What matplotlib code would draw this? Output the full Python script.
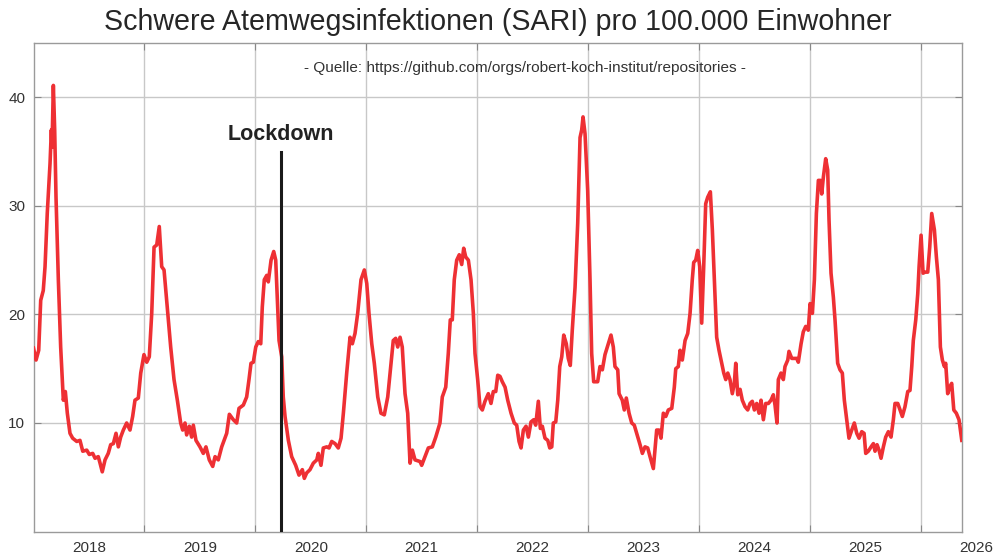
import numpy as np
import matplotlib.pyplot as plt

plt.rcParams['font.family'] = ['Liberation Sans', 'DejaVu Sans']

# Kalenderzeit (Dezimaljahr) und SARI-Inzidenz pro 100.000
jahr = [
    2018.000, 2018.023, 2018.047, 2018.065, 2018.088, 2018.104, 2018.124, 2018.149, 2018.161, 2018.167,
    2018.179, 2018.191, 2018.203, 2018.224, 2018.245, 2018.269, 2018.287, 2018.305, 2018.329, 2018.353,
    2018.390, 2018.419, 2018.444, 2018.480, 2018.503, 2018.534, 2018.555, 2018.584, 2018.600, 2018.620,
    2018.645, 2018.674, 2018.696, 2018.720, 2018.744, 2018.765, 2018.786, 2018.810, 2018.840, 2018.870,
    2018.894, 2018.915, 2018.945, 2018.967, 2018.996, 2019.021, 2019.044, 2019.066, 2019.087, 2019.111,
    2019.134, 2019.156, 2019.177, 2019.206, 2019.237, 2019.267, 2019.297, 2019.327, 2019.345, 2019.366,
    2019.381, 2019.405, 2019.426, 2019.441, 2019.465, 2019.501, 2019.531, 2019.555, 2019.585, 2019.616,
    2019.637, 2019.666, 2019.697, 2019.742, 2019.766, 2019.802, 2019.832, 2019.853, 2019.892, 2019.922,
    2019.943, 2019.961, 2019.982, 2020.004, 2020.027, 2020.049, 2020.063, 2020.081, 2020.103, 2020.117,
    2020.142, 2020.166, 2020.184, 2020.202, 2020.214, 2020.238, 2020.252, 2020.268, 2020.298, 2020.328,
    2020.364, 2020.394, 2020.424, 2020.442, 2020.463, 2020.493, 2020.523, 2020.554, 2020.568, 2020.592,
    2020.613, 2020.644, 2020.665, 2020.689, 2020.719, 2020.748, 2020.773, 2020.794, 2020.824, 2020.854,
    2020.875, 2020.899, 2020.923, 2020.953, 2020.983, 2021.005, 2021.025, 2021.050, 2021.073, 2021.104,
    2021.133, 2021.163, 2021.194, 2021.224, 2021.244, 2021.266, 2021.284, 2021.305, 2021.325, 2021.350,
    2021.374, 2021.395, 2021.416, 2021.440, 2021.485, 2021.500, 2021.530, 2021.560, 2021.596, 2021.627,
    2021.665, 2021.686, 2021.717, 2021.740, 2021.758, 2021.776, 2021.794, 2021.816, 2021.839, 2021.861,
    2021.879, 2021.897, 2021.921, 2021.945, 2021.966, 2021.981, 2022.005, 2022.026, 2022.047, 2022.071,
    2022.101, 2022.125, 2022.146, 2022.168, 2022.186, 2022.206, 2022.227, 2022.252, 2022.276, 2022.306,
    2022.335, 2022.357, 2022.378, 2022.396, 2022.417, 2022.441, 2022.462, 2022.486, 2022.510, 2022.528,
    2022.552, 2022.570, 2022.588, 2022.612, 2022.637, 2022.655, 2022.673, 2022.687, 2022.709, 2022.727,
    2022.745, 2022.763, 2022.781, 2022.804, 2022.822, 2022.840, 2022.858, 2022.883, 2022.907, 2022.928,
    2022.943, 2022.955, 2022.973, 2022.997, 2023.018, 2023.033, 2023.051, 2023.087, 2023.108, 2023.129,
    2023.153, 2023.183, 2023.207, 2023.228, 2023.243, 2023.268, 2023.280, 2023.309, 2023.327, 2023.345,
    2023.370, 2023.394, 2023.417, 2023.439, 2023.469, 2023.490, 2023.514, 2023.538, 2023.559, 2023.589,
    2023.619, 2023.640, 2023.658, 2023.679, 2023.701, 2023.724, 2023.755, 2023.778, 2023.791, 2023.814,
    2023.830, 2023.850, 2023.875, 2023.899, 2023.920, 2023.940, 2023.953, 2023.971, 2023.989, 2024.007,
    2024.025, 2024.043, 2024.061, 2024.079, 2024.103, 2024.121, 2024.139, 2024.160, 2024.181, 2024.199,
    2024.224, 2024.242, 2024.260, 2024.280, 2024.301, 2024.319, 2024.332, 2024.350, 2024.371, 2024.391,
    2024.416, 2024.440, 2024.461, 2024.481, 2024.500, 2024.521, 2024.542, 2024.560, 2024.581, 2024.602,
    2024.626, 2024.650, 2024.671, 2024.686, 2024.704, 2024.716, 2024.740, 2024.761, 2024.776, 2024.801,
    2024.812, 2024.837, 2024.882, 2024.896, 2024.921, 2024.941, 2024.963, 2024.986, 2025.002, 2025.023,
    2025.041, 2025.059, 2025.077, 2025.095, 2025.107, 2025.122, 2025.143, 2025.161, 2025.173, 2025.191,
    2025.212, 2025.227, 2025.251, 2025.272, 2025.293, 2025.311, 2025.333, 2025.353, 2025.378, 2025.401,
    2025.423, 2025.444, 2025.468, 2025.489, 2025.504, 2025.527, 2025.552, 2025.573, 2025.588, 2025.606,
    2025.624, 2025.642, 2025.663, 2025.684, 2025.708, 2025.732, 2025.753, 2025.768, 2025.793, 2025.813,
    2025.834, 2025.858, 2025.883, 2025.903, 2025.919, 2025.933, 2025.955, 2025.973, 2025.985, 2026.003,
    2026.021, 2026.039, 2026.063, 2026.081, 2026.099, 2026.123, 2026.141, 2026.159, 2026.177, 2026.195,
    2026.213, 2026.225, 2026.243, 2026.261, 2026.279, 2026.298, 2026.321, 2026.345, 2026.370,
]
sari = [
    16.9, 15.8, 16.7, 21.3, 22.2, 24.4, 29.3, 33.9, 37.0, 35.4,
    41.1, 37.0, 30.8, 23.2, 17.0, 12.1, 12.9, 10.9, 9.05, 8.6,
    8.3, 8.4, 7.4, 7.5, 7.1, 7.2, 6.75, 6.9, 6.3, 5.5,
    6.6, 7.2, 8.0, 8.1, 9.05, 7.8, 8.7, 9.35, 10.0, 9.35,
    10.6, 12.1, 12.3, 14.6, 16.3, 15.6, 16.1, 20.1, 26.2, 26.4,
    28.1, 24.4, 24.1, 20.7, 17.0, 14.0, 12.1, 10.0, 9.35, 10.0,
    8.9, 9.7, 8.7, 9.8, 8.4, 7.8, 7.2, 7.8, 6.6, 6.0,
    6.9, 6.6, 7.8, 9.05, 10.8, 10.3, 10.0, 11.35, 11.65, 12.4,
    14.0, 15.5, 15.6, 17.0, 17.5, 17.3, 20.7, 23.2, 23.6, 23.0,
    25.0, 25.8, 25.0, 20.7, 17.6, 16.1, 12.4, 10.6, 8.4, 6.9,
    6.1, 5.2, 5.7, 4.9, 5.4, 5.7, 6.3, 6.6, 7.2, 6.1,
    7.7, 7.8, 7.7, 8.3, 8.1, 7.7, 8.6, 10.9, 14.6, 17.9,
    17.3, 18.25, 20.1, 23.2, 24.1, 22.85, 20.1, 17.3, 15.5, 12.4,
    10.9, 10.75, 12.4, 15.5, 17.6, 17.8, 17.0, 17.9, 17.0, 12.7,
    10.9, 6.3, 7.5, 6.6, 6.45, 6.1, 6.9, 7.7, 7.8, 8.7,
    10.0, 12.4, 13.3, 16.4, 19.5, 19.5, 23.2, 25.0, 25.5, 24.6,
    26.1, 25.3, 25.0, 23.2, 20.1, 16.4, 14.0, 11.5, 11.2, 12.0,
    12.7, 11.8, 12.9, 12.9, 14.4, 14.3, 13.8, 13.3, 12.1, 10.9,
    10.0, 9.8, 8.3, 7.7, 9.35, 9.7, 8.7, 10.1, 10.3, 9.8,
    12.0, 9.5, 9.7, 8.6, 8.4, 7.7, 7.8, 10.0, 10.1, 12.1,
    15.2, 16.1, 18.1, 17.3, 15.95, 15.3, 18.55, 22.5, 28.4, 36.3,
    37.0, 38.2, 36.65, 31.4, 23.2, 16.4, 13.8, 13.8, 15.2, 14.9,
    16.3, 17.3, 18.1, 17.0, 15.2, 14.9, 12.7, 12.1, 11.2, 12.3,
    10.9, 10.0, 9.8, 9.05, 8.0, 7.2, 7.8, 7.7, 6.9, 5.8,
    9.35, 9.35, 8.6, 10.9, 10.6, 11.2, 11.35, 13.3, 15.0, 15.2,
    16.7, 15.8, 17.6, 18.25, 20.1, 23.2, 24.8, 25.0, 25.9, 24.4,
    19.2, 24.4, 30.2, 30.8, 31.3, 27.8, 23.2, 17.9, 16.7, 15.8,
    14.6, 14.0, 14.6, 14.0, 12.7, 13.65, 15.5, 12.6, 13.1, 12.1,
    11.5, 11.2, 11.8, 12.0, 11.2, 11.8, 10.9, 12.1, 10.3, 11.8,
    11.8, 12.1, 12.6, 11.65, 10.0, 14.0, 14.6, 14.0, 15.2, 15.8,
    16.6, 15.95, 15.95, 15.6, 17.3, 18.4, 18.9, 18.55, 21.0, 20.1,
    23.2, 29.3, 32.35, 32.35, 31.1, 32.65, 34.35, 33.3, 28.7, 23.8,
    21.6, 19.5, 15.5, 14.9, 14.6, 12.1, 10.3, 8.6, 9.35, 10.0,
    9.05, 8.6, 9.2, 9.05, 7.2, 7.4, 7.8, 8.1, 7.4, 8.0,
    7.5, 6.75, 7.8, 8.7, 9.2, 8.7, 10.3, 11.8, 11.8, 11.2,
    10.6, 11.5, 12.9, 13.0, 15.2, 17.6, 19.5, 21.9, 24.4, 27.3,
    23.8, 23.9, 23.9, 26.2, 29.3, 27.8, 25.3, 23.2, 17.0, 15.8,
    15.2, 15.5, 12.7, 13.3, 13.65, 11.2, 10.9, 10.3, 8.4,
]

jahre = [2018, 2019, 2020, 2021, 2022, 2023, 2024, 2025, 2026]
y_ticks = [10, 20, 30, 40]
lockdown = 2020.232

fig = plt.figure(figsize=(10, 5.56), dpi=100)
ax = fig.add_axes([0.0335, 0.044, 0.9285, 0.8785])

ax.plot(jahr, sari, color='#ee3034', linewidth=2.6, solid_joinstyle='round', zorder=3)

# Lockdown-Markierung
ax.plot([lockdown, lockdown], [0, 35], color='#1a1a1a', linewidth=2.2, zorder=4)
ax.text(lockdown, 36.6, "Lockdown", ha='center', va='center', fontsize=15.5,
        fontweight='bold', color='#222222')

ax.text(0.529, 0.949, "- Quelle: https://github.com/orgs/robert-koch-institut/repositories -",
        transform=ax.transAxes, ha='center', va='center', fontsize=11.1, color='#333333')

fig.text(0.4975, 1 - 22 / 556, "Schwere Atemwegsinfektionen (SARI) pro 100.000 Einwohner",
         ha='center', va='center', fontsize=20.6, color='#262626')

ax.set_xlim(2018.0, 2026.372)
ax.set_ylim(0, 45)

# Jahresgrenzen als Gitter, Jahreszahlen in der Mitte
ax.set_xticks(jahre[1:])
ax.set_xticklabels([])
ax.set_xticks([j + 0.5 for j in jahre[:-1]], minor=True)
ax.set_xticklabels([str(j) for j in jahre[:-1]], minor=True)
ax.annotate(str(jahre[-1]), xy=(jahre[-1] + 0.5, 0), xycoords=('data', 'axes fraction'),
            xytext=(0, -7), textcoords='offset points', ha='center', va='top',
            fontsize=11, color='#333333', annotation_clip=False)
ax.set_yticks(y_ticks)

ax.tick_params(axis='x', which='minor', length=0, pad=7, labelsize=11, labelcolor='#333333')
ax.tick_params(axis='both', which='major', direction='in', length=5, color='#888888',
               top=True, right=True, labelsize=11, labelcolor='#333333')
ax.tick_params(axis='y', pad=6)

ax.grid(True, which='major', color='#c8c8c8', linewidth=1.0)
for s in ax.spines.values():
    s.set_color('#9a9a9a')
    s.set_linewidth(1.0)

plt.savefig('out.png', dpi=100)
